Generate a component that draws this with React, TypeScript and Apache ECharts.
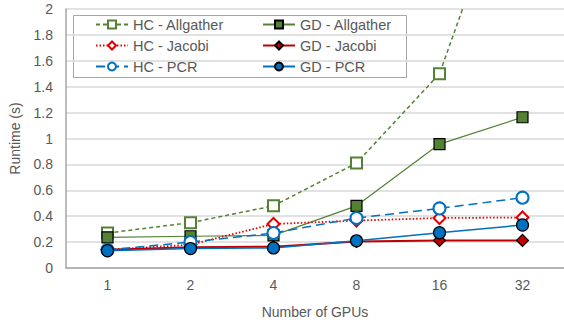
import React, { useEffect, useRef } from "react";
import * as echarts from "echarts";

const categories = ["1", "2", "4", "8", "16", "32"];
const hcAllgather = [0.27, 0.35, 0.48, 0.81, 1.5, 3.3];
const gdAllgather = [0.237, 0.245, 0.252, 0.48, 0.957, 1.164];
const hcJacobi = [0.14, 0.18, 0.34, 0.366, 0.386, 0.39];
const gdJacobi = [0.14, 0.16, 0.165, 0.205, 0.213, 0.213];
const hcPcr = [0.14, 0.2, 0.27, 0.386, 0.46, 0.543];
const gdPcr = [0.133, 0.15, 0.155, 0.21, 0.272, 0.332];

const FONT = "'Liberation Sans', Arial, sans-serif";
const TXT = "#595959";
const GREEN = "#548235";
const RED = "#e00000";
const DARKRED = "#c00000";
const BLUE = "#0070c0";

export default function App() {
  const ref = useRef<HTMLDivElement>(null);
  useEffect(() => {
    if (!ref.current) return;
    const chart = echarts.init(ref.current, undefined, { renderer: "svg" });
    const legendCommon = {
      orient: "vertical",
      top: 16.5,
      padding: 0,
      itemGap: 5,
      itemWidth: 32,
      itemHeight: 10,
      textStyle: { fontFamily: FONT, fontSize: 14.5, color: TXT, lineHeight: 16 },
    };
    chart.setOption({
      animation: false,
      textStyle: { fontFamily: FONT },
      grid: { left: 62, right: -10, top: 9, bottom: 51 },
      graphic: [
        {
          type: "rect",
          left: 73,
          top: 15,
          shape: { width: 333, height: 62 },
          style: { fill: "#fff", stroke: "#a6a6a6", lineWidth: 1 },
          z: 0,
        },
      ],
      legend: [
        { ...legendCommon, left: 95, data: ["HC - Allgather", "HC - Jacobi", "HC - PCR"] },
        { ...legendCommon, left: 262, data: ["GD - Allgather", "GD - Jacobi", "GD - PCR"] },
      ],
      xAxis: {
        type: "category",
        data: categories,
        boundaryGap: true,
        name: "Number of GPUs",
        nameLocation: "middle",
        nameGap: 37,
        nameTextStyle: { fontFamily: FONT, fontSize: 14, color: TXT },
        axisLine: { lineStyle: { color: "#a6a6a6", width: 1.5 } },
        axisTick: { show: false },
        axisLabel: { fontFamily: FONT, fontSize: 14, color: TXT, margin: 10 },
      },
      yAxis: {
        type: "value",
        min: 0,
        max: 2,
        interval: 0.2,
        name: "Runtime (s)",
        nameLocation: "middle",
        nameGap: 44,
        nameRotate: 90,
        nameTextStyle: { fontFamily: FONT, fontSize: 14, color: TXT },
        axisLine: { show: true, lineStyle: { color: "#a6a6a6", width: 1.5 } },
        axisTick: { show: false },
        axisLabel: {
          fontFamily: FONT,
          fontSize: 14,
          color: TXT,
          margin: 13,
          formatter: (v: number) => String(Math.round(v * 10) / 10),
        },
        splitLine: { lineStyle: { color: "#d9d9d9", width: 1.5 } },
      },
      series: [
        {
          name: "HC - Allgather",
          type: "line",
          data: hcAllgather,
          symbol: "emptyRect",
          symbolSize: 11,
          itemStyle: { color: GREEN, borderColor: GREEN, borderWidth: 1.5 },
          lineStyle: { color: GREEN, width: 1.5, type: [4, 3] },
          clip: true,
        },
        {
          name: "GD - Allgather",
          type: "line",
          data: gdAllgather,
          symbol: "rect",
          symbolSize: 11,
          itemStyle: { color: GREEN, borderColor: "#000", borderWidth: 1.2 },
          lineStyle: { color: GREEN, width: 1.2, type: "solid" },
        },
        {
          name: "HC - Jacobi",
          type: "line",
          data: hcJacobi,
          symbol: "emptyDiamond",
          symbolSize: 12,
          itemStyle: { color: RED, borderColor: RED, borderWidth: 1.5 },
          lineStyle: { color: RED, width: 1.8, type: [1.5, 2] },
        },
        {
          name: "GD - Jacobi",
          type: "line",
          data: gdJacobi,
          symbol: "diamond",
          symbolSize: 12,
          itemStyle: { color: DARKRED, borderColor: "#000", borderWidth: 1.2 },
          lineStyle: { color: DARKRED, width: 2, type: "solid" },
        },
        {
          name: "HC - PCR",
          type: "line",
          data: hcPcr,
          symbol: "emptyCircle",
          symbolSize: 12,
          itemStyle: { color: BLUE, borderColor: BLUE, borderWidth: 1.5 },
          lineStyle: { color: BLUE, width: 1.5, type: [9, 5] },
        },
        {
          name: "GD - PCR",
          type: "line",
          data: gdPcr,
          symbol: "circle",
          symbolSize: 12,
          itemStyle: { color: BLUE, borderColor: "#000", borderWidth: 1.2 },
          lineStyle: { color: BLUE, width: 1.5, type: "solid" },
        },
      ],
    });
    return () => chart.dispose();
  }, []);
  return <div ref={ref} style={{ width: 564, height: 324, position: "absolute", left: 0, top: 0 }} />;
}
